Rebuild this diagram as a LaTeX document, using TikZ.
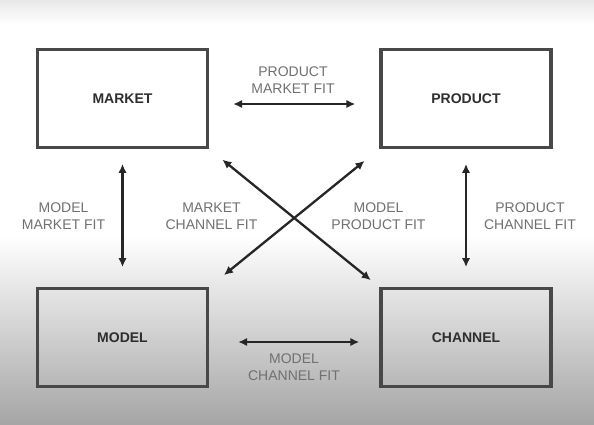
\documentclass[tikz,border=0pt]{standalone}
\usepackage{fontspec}
\setmainfont{Liberation Sans}
\usepackage{xcolor}
\usetikzlibrary{arrows.meta}
\definecolor{boxline}{HTML}{484848}
\definecolor{arrline}{HTML}{262626}
\definecolor{labtext}{HTML}{707070}
\definecolor{boxtext}{HTML}{2E2E2E}
\begin{document}
\begin{tikzpicture}[x=1pt,y=-1pt]
\tikzstyle{box}=[draw=boxline,line width=3.4pt,minimum width=170pt,minimum height=97.5pt,font=\fontsize{14}{16}\selectfont\bfseries,text=boxtext]
\tikzstyle{fitlabel}=[align=center,font=\fontsize{14}{16.5}\selectfont,text=labtext]
\tikzstyle{fitarrow}=[line width=2.3pt,draw=arrline,arrows={Latex[length=9pt,width=8.5pt]-Latex[length=9pt,width=8.5pt]}]
% background
\useasboundingbox (0,0) rectangle (594,424);
\shade[top color=black!9,bottom color=white] (0,0) rectangle (594,24);
\fill[white] (0,24) rectangle (594,235);
\shade[top color=white,bottom color=black!35] (0,235) rectangle (594,424);
% boxes
\node[box,fill=white] (market) at (122.5,98.5) {MARKET};
\node[box,fill=white] (product) at (466,98.5) {PRODUCT};
\node[box] (model) at (122.5,337.5) {MODEL};
\node[box] (channel) at (466,337.5) {CHANNEL};
% connectors
\draw[fitarrow,shorten <=24pt,shorten >=24pt] ([yshift=-5.5pt]market.east) -- ([yshift=-5.5pt]product.west);
\draw[fitarrow,shorten <=29pt,shorten >=20pt] ([yshift=-4.5pt]model.east) -- ([yshift=-4.5pt]channel.west);
\draw[fitarrow,shorten <=15pt,shorten >=20pt] (market.south) -- (model.north);
\draw[fitarrow,shorten <=15pt,shorten >=20pt] (product.south) -- (channel.north);
\draw[fitarrow,shorten <=17pt,shorten >=11pt] (market.south east) -- (channel.north west);
\draw[fitarrow,shorten <=19pt,shorten >=19pt] (product.south west) -- (model.north east);
% labels
\node[fitlabel] (pmf) at (293,80) {PRODUCT\\MARKET FIT};
\node[fitlabel] (mmf) at (63.5,216) {MODEL\\MARKET FIT};
\node[fitlabel] (mcf) at (211.5,216) {MARKET\\CHANNEL FIT};
\node[fitlabel] (mpf) at (378.5,216) {MODEL\\PRODUCT FIT};
\node[fitlabel] (pcf) at (530,216) {PRODUCT\\CHANNEL FIT};
\node[fitlabel] (mchf) at (294,367) {MODEL\\CHANNEL FIT};
\end{tikzpicture}
\end{document}
